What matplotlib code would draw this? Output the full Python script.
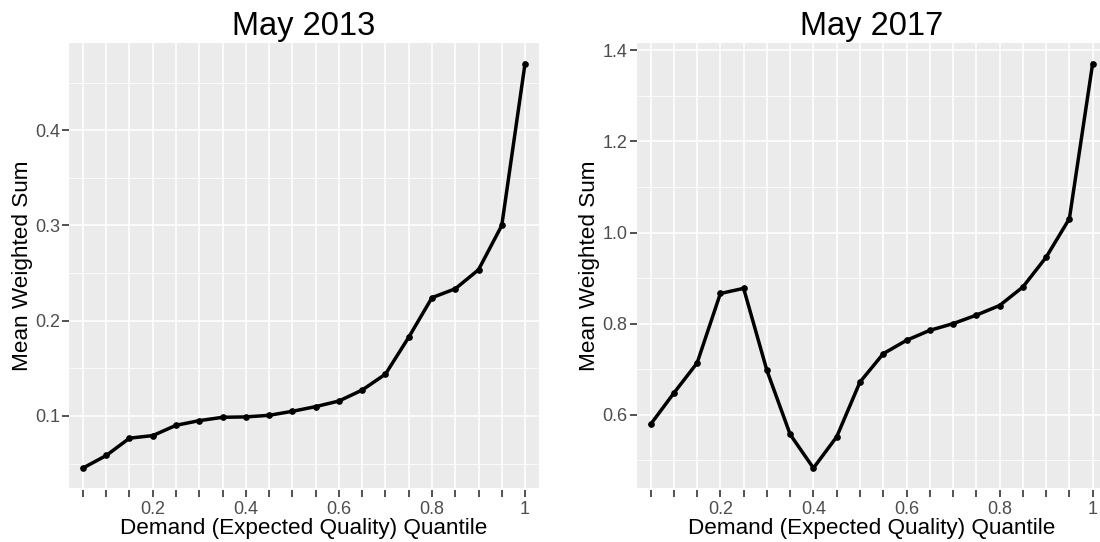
import matplotlib
matplotlib.use("Agg")
import matplotlib.pyplot as plt
import numpy as np

plt.rcParams['font.family'] = ['Liberation Sans', 'DejaVu Sans']

# quantile levels (discrete x axis)
quantiles = [0.05, 0.10, 0.15, 0.20, 0.25, 0.30, 0.35, 0.40, 0.45, 0.50,
             0.55, 0.60, 0.65, 0.70, 0.75, 0.80, 0.85, 0.90, 0.95, 1.00]
x_labels = ['', '', '', '0.2', '', '', '', '0.4', '', '',
            '', '0.6', '', '', '', '0.8', '', '', '', '1']

may2013 = [0.0453, 0.0585, 0.0767, 0.0794, 0.0902, 0.0951, 0.0986, 0.0990, 0.1007, 0.1049,
           0.1098, 0.1157, 0.1272, 0.1439, 0.1826, 0.2242, 0.2335, 0.2535, 0.3000, 0.4700]
may2017 = [0.5788, 0.6476, 0.7136, 0.8662, 0.8775, 0.6974, 0.5568, 0.4830, 0.5516, 0.6718,
           0.7340, 0.7634, 0.7853, 0.8000, 0.8187, 0.8398, 0.8804, 0.9457, 1.0304, 1.3710]

y_major_2013 = [0.1, 0.2, 0.3, 0.4]
y_minor_2013 = [0.05, 0.15, 0.25, 0.35, 0.45]
y_major_2017 = [0.6, 0.8, 1.0, 1.2, 1.4]
y_minor_2017 = [0.5, 0.7, 0.9, 1.1, 1.3]

W, H = 1100, 542
fig = plt.figure(figsize=(W / 100, H / 100), dpi=100)


def gg_panel(rect, y, title, majors, minors, fmt):
    ax = fig.add_axes(rect)
    ax.set_facecolor('#EBEBEB')
    for s in ax.spines.values():
        s.set_visible(False)
    ax.spines['bottom'].set_position(('outward', 1.5))

    x = np.array(quantiles)
    step = x[1] - x[0]
    ax.set_xlim(x[0] - 0.6 * step, x[-1] + 0.6 * step)
    lo, hi = min(y), max(y)
    pad = 0.05 * (hi - lo)
    ax.set_ylim(lo - pad, hi + pad)

    ax.set_xticks(quantiles)
    ax.set_xticklabels(x_labels)
    ax.set_yticks(majors)
    ax.set_yticklabels([fmt.format(v) for v in majors])
    ax.set_yticks(minors, minor=True)

    ax.grid(True, which='major', color='white', linewidth=1.1)
    ax.grid(True, which='minor', axis='y', color='white', linewidth=0.55)
    ax.set_axisbelow(True)

    ax.tick_params(axis='both', which='major', length=5, width=1.2, color='#333333',
                   labelcolor='#4D4D4D', labelsize=13)
    ax.tick_params(axis='x', pad=3)
    ax.tick_params(axis='y', pad=1.5)
    ax.tick_params(axis='y', which='minor', length=0)

    ax.plot(quantiles, y, color='black', linewidth=2.5, marker='o', markersize=3.8,
            solid_joinstyle='round')

    ax.set_title(title, fontsize=23.5, pad=6)
    ax.set_xlabel('Demand (Expected Quality) Quantile', fontsize=16.2, labelpad=0)
    ax.set_ylabel('Mean Weighted Sum', fontsize=16.2, labelpad=1.5)
    return ax


bottom = (H - 488.3) / H
height = 445 / H
gg_panel([69 / W, bottom, 470 / W, height], may2013, 'May 2013',
         y_major_2013, y_minor_2013, '{:.1f}')
gg_panel([636.6 / W, bottom, 470 / W, height], may2017, 'May 2017',
         y_major_2017, y_minor_2017, '{:.1f}')

fig.savefig('out.png', dpi=100)
